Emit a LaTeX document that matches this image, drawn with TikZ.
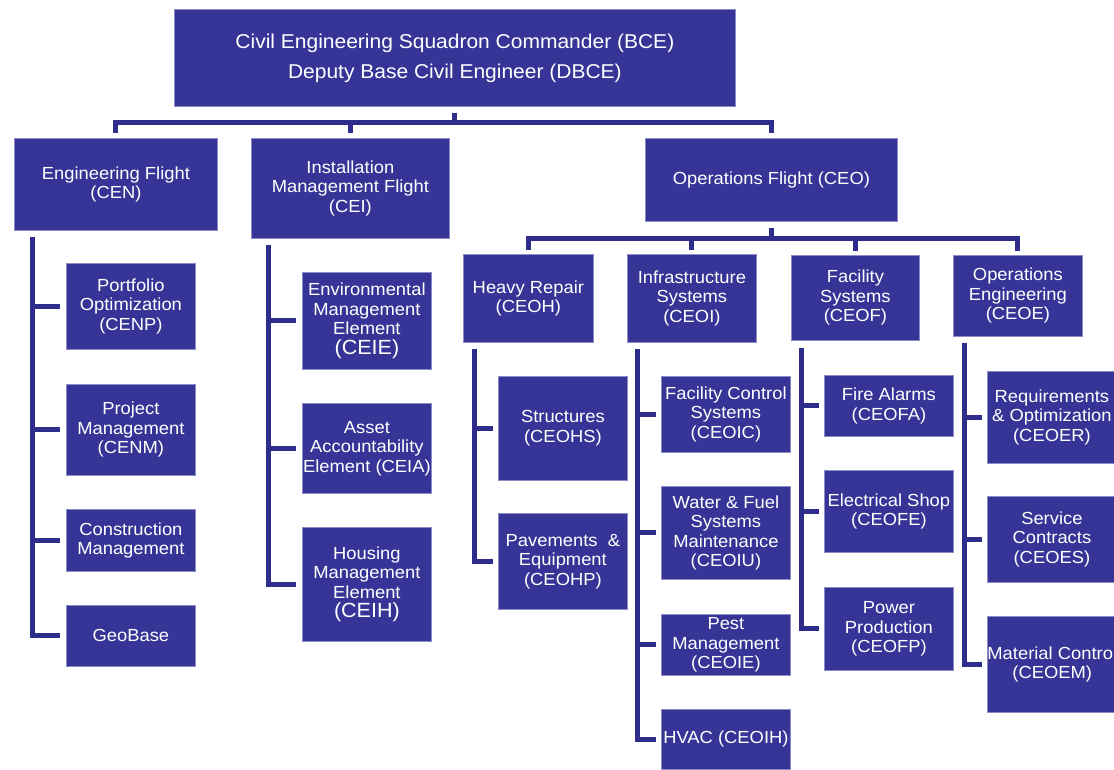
\documentclass[tikz,border=0pt]{standalone}
\usepackage{fontspec}
\setmainfont{Liberation Sans}[FakeStretch=1.05]
\usetikzlibrary{calc}
\definecolor{boxfill}{RGB}{54,53,151}
\definecolor{boxedge}{RGB}{140,140,200}
\definecolor{linkcol}{RGB}{46,45,140}
\tikzset{
  unit/.style={draw=boxedge, line width=0.8pt, fill=boxfill, text=white,
    anchor=north west, inner sep=0pt, align=center,
    font=\fontsize{17.5}{19.5}\selectfont},
  conn/.style={draw=linkcol, line width=5pt, line join=miter, line cap=butt},
}
\newcommand{\orgbox}[6]{% name, x1, y1, x2, y2, text
  \node[unit, minimum width={#4-#2}, minimum height={#5-#3}]
    (#1) at (#2,#3) {#6};}
\newcommand{\bigcode}[1]{{\fontsize{20.5}{23}\selectfont #1}}
\begin{document}
\begin{tikzpicture}[x=1pt, y=-1pt]
\useasboundingbox (0,0) rectangle (1114,769);
\clip (0,0) rectangle (1114,769);

% Squadron head
\node[unit, minimum width=561, minimum height=97,
  font=\fontsize{20}{30}\selectfont] (bce) at (174,9)
  {Civil Engineering Squadron Commander (BCE)\\Deputy Base Civil Engineer (DBCE)};

% Flights
\orgbox{cen}{14}{138}{217}{230}{Engineering Flight\\(CEN)}
\orgbox{cei}{251}{138}{449}{238}{Installation\\Management Flight\\(CEI)}
\orgbox{ceo}{645}{138}{897}{221}{Operations Flight (CEO)}

% Engineering Flight elements
\orgbox{cenp}{66}{263}{195}{349}{Portfolio\\Optimization\\(CENP)}
\orgbox{cenm}{66}{384}{195}{475}{Project\\Management\\(CENM)}
\orgbox{cncm}{66}{509}{195}{571}{Construction\\Management}
\orgbox{geo}{66}{605}{195}{666}{GeoBase}

% Installation Management Flight elements
\orgbox{ceie}{302}{272}{431}{369}{Environmental\\Management\\Element\\\bigcode{(CEIE)}}
\orgbox{ceia}{302}{403}{431}{493}{Asset\\Accountability\\Element (CEIA)}
\orgbox{ceih}{302}{527}{431}{641}{Housing\\Management\\Element\\\bigcode{(CEIH)}}

% Operations Flight sections
\orgbox{ceoh}{463}{254}{593}{342}{Heavy Repair\\(CEOH)}
\orgbox{ceoi}{627}{254}{756}{342}{Infrastructure\\Systems\\(CEOI)}
\orgbox{ceof}{791}{255}{919}{340}{Facility\\Systems\\(CEOF)}
\orgbox{ceoe}{953}{255}{1082}{336}{Operations\\Engineering\\(CEOE)}

% Heavy Repair shops
\orgbox{ceohs}{498}{376}{627}{480}{Structures\\(CEOHS)}
\orgbox{ceohp}{498}{513}{627}{609}{Pavements~~\&\\Equipment\\(CEOHP)}

% Infrastructure Systems shops
\orgbox{ceoic}{661}{376}{790}{452}{Facility Control\\Systems\\(CEOIC)}
\orgbox{ceoiu}{661}{486}{790}{579}{Water \& Fuel\\Systems\\Maintenance\\(CEOIU)}
\orgbox{ceoie}{661}{614}{790}{675}{Pest\\Management\\(CEOIE)}
\orgbox{ceoih}{661}{709}{790}{769}{HVAC (CEOIH)}

% Facility Systems shops
\orgbox{ceofa}{824}{375}{953}{436}{Fire Alarms\\(CEOFA)}
\orgbox{ceofe}{824}{470}{953}{552}{Electrical Shop\\(CEOFE)}
\orgbox{ceofp}{824}{587}{953}{670}{Power\\Production\\(CEOFP)}

% Operations Engineering shops
\orgbox{ceoer}{987}{371}{1116}{463}{Requirements\\\& Optimization\\(CEOER)}
\orgbox{ceoes}{987}{496}{1116}{582}{Service\\Contracts\\(CEOES)}
\orgbox{ceoem}{987}{616}{1116}{712}{Material Control\\(CEOEM)}

% Squadron to flights
\coordinate (bar1) at (0,122);
\draw[conn] ($(bce.south)+(0,6)$) -- (bce.south |- bar1);
\draw[conn] ($(cen.north)+(0,-5)$) |- (ceo.north |- bar1) -- ($(ceo.north)+(0,-5)$);
\draw[conn] (cei.north |- bar1) -- ($(cei.north)+(0,-5)$);

% Operations Flight to sections
\coordinate (bar2) at (0,238);
\draw[conn] ($(ceo.south)+(0,6)$) -- (ceo.south |- bar2);
\draw[conn] ($(ceoh.north)+(0,-4)$) |- (ceoe.north |- bar2) -- ($(ceoe.north)+(0,-4)$);
\draw[conn] (ceoi.north |- bar2) -- ($(ceoi.north)+(0,-4)$);
\draw[conn] (ceof.north |- bar2) -- ($(ceof.north)+(0,-4)$);

% Spines down the left side of each group
\coordinate (s-cen) at ($(cen.south west)+(18,6)$);
\foreach \c in {cenp,cenm,cncm,geo}
  \draw[conn] (s-cen) |- ($(\c.west)+(-6,0)$);

\coordinate (s-cei) at ($(cei.south west)+(17,6)$);
\foreach \c in {ceie,ceia,ceih}
  \draw[conn] (s-cei) |- ($(\c.west)+(-6,0)$);

\coordinate (s-ceoh) at ($(ceoh.south west)+(11,6)$);
\foreach \c in {ceohs,ceohp}
  \draw[conn] (s-ceoh) |- ($(\c.west)+(-5,0)$);

\coordinate (s-ceoi) at ($(ceoi.south west)+(10,6)$);
\foreach \c in {ceoic,ceoiu,ceoie,ceoih}
  \draw[conn] (s-ceoi) |- ($(\c.west)+(-5,0)$);

\coordinate (s-ceof) at ($(ceof.south west)+(10,7)$);
\foreach \c in {ceofa,ceofe,ceofp}
  \draw[conn] (s-ceof) |- ($(\c.west)+(-5,0)$);

\coordinate (s-ceoe) at ($(ceoe.south west)+(11,6)$);
\foreach \c in {ceoer,ceoes,ceoem}
  \draw[conn] (s-ceoe) |- ($(\c.west)+(-5,0)$);
\end{tikzpicture}
\end{document}
